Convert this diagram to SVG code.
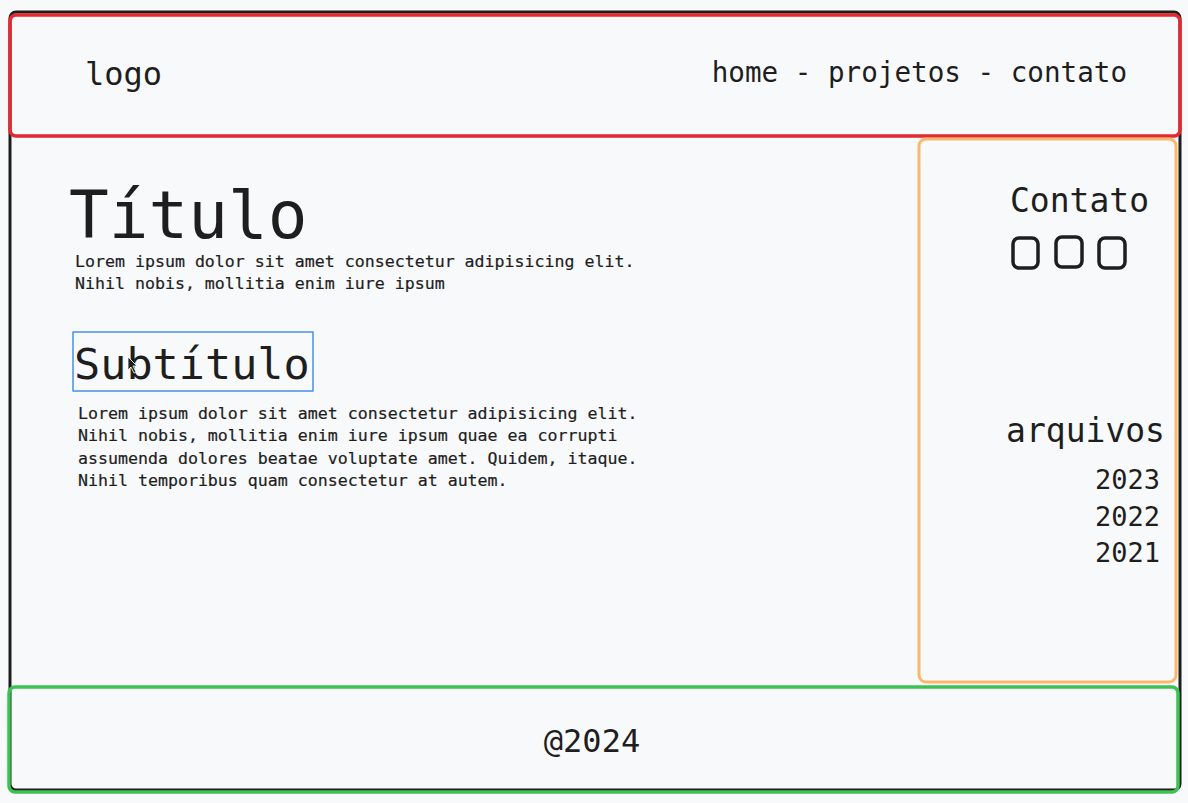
<svg xmlns="http://www.w3.org/2000/svg" width="1188" height="803" viewBox="0 0 1188 803">
<style>
.t{font-family:"DejaVu Sans Mono","Liberation Mono",monospace;fill:#1e1e1e}
.p{stroke:#1e1e1e;stroke-width:0.2}
.box{fill:none;stroke-linejoin:round}
</style>
<rect width="1188" height="803" fill="#f8f9fb"/>
<g id="page"><rect class="box" x="10" y="12" width="1170" height="778" rx="6" stroke="#1e1e1e" stroke-width="3"/></g>
<g id="header">
<rect class="box" x="10" y="15" width="1170" height="121" rx="6" stroke="#e32a30" stroke-width="3.5"/>
<text class="t" x="85" y="85" font-size="32">logo</text>
<text class="t" x="1127" y="82" font-size="27.6" text-anchor="end">home - projetos - contato</text>
</g>
<g id="sidebar">
<rect class="box" x="919" y="139" width="257" height="543" rx="7" stroke="#fbb86d" stroke-width="3"/>
<text class="t" x="1149" y="212" font-size="33" text-anchor="end">Contato</text>
<rect class="box" x="1013" y="238" width="25" height="30" rx="6" stroke="#1e1e1e" stroke-width="3.5"/>
<rect class="box" x="1056" y="237" width="26" height="30" rx="6" stroke="#1e1e1e" stroke-width="3.5"/>
<rect class="box" x="1099" y="238" width="26" height="30" rx="6" stroke="#1e1e1e" stroke-width="3.5"/>
<text class="t" x="1165" y="442" font-size="33" text-anchor="end">arquivos</text>
<text class="t" x="1160" y="489" font-size="27" text-anchor="end">2023</text>
<text class="t" x="1160" y="526" font-size="27" text-anchor="end">2022</text>
<text class="t" x="1160" y="562" font-size="27" text-anchor="end">2021</text>
</g>
<g id="content">
<text class="t" x="69" y="238" font-size="66">Título</text>
<text class="t p" font-size="16.6"><tspan x="75" y="267">Lorem ipsum dolor sit amet consectetur adipisicing elit.</tspan><tspan x="75" y="289">Nihil nobis, mollitia enim iure ipsum</tspan></text>
<rect class="box" x="73" y="332" width="240" height="59" stroke="#4a90e2" stroke-width="1.5"/>
<text class="t" x="74" y="379" font-size="43.5">Subtítulo</text>
<path d="M128 357 L128 370 L131 367 L134 373 L136 372 L133 366 L137 366 Z" fill="#1e1e1e" stroke="#fff" stroke-width="0.8"/>
<text class="t p" font-size="16.6"><tspan x="78" y="419">Lorem ipsum dolor sit amet consectetur adipisicing elit.</tspan><tspan x="78" y="441">Nihil nobis, mollitia enim iure ipsum quae ea corrupti</tspan><tspan x="78" y="464">assumenda dolores beatae voluptate amet. Quidem, itaque.</tspan><tspan x="78" y="486">Nihil temporibus quam consectetur at autem.</tspan></text>
</g>
<g id="footer">
<rect class="box" x="9" y="687" width="1169" height="105" rx="6" stroke="#3cc251" stroke-width="3.5"/>
<text class="t" x="592" y="752" font-size="32" text-anchor="middle">@2024</text>
</g>
<g id="connectors"/>
</svg>
